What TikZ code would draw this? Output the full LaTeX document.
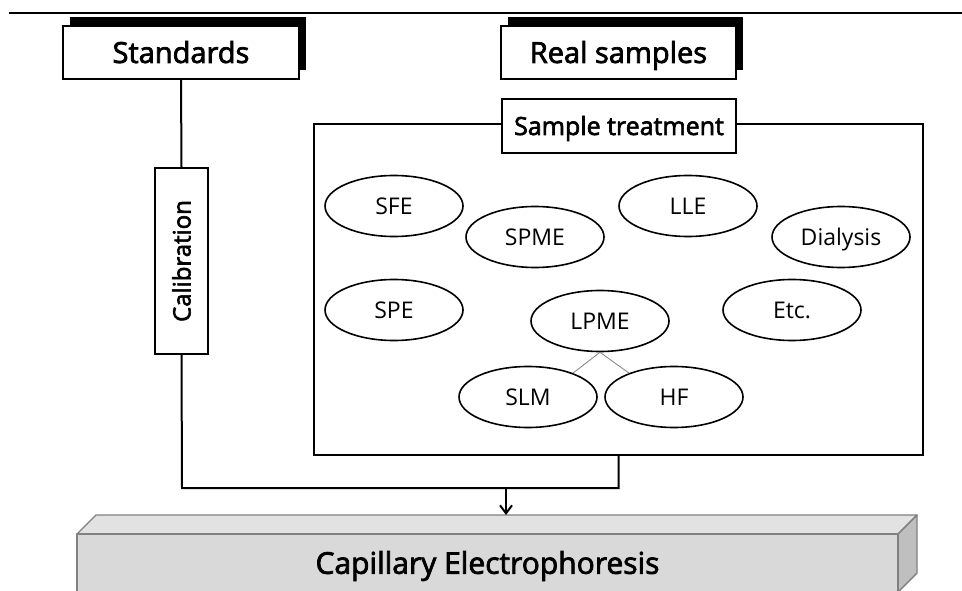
\documentclass[tikz,border=0pt]{standalone}
\usepackage{fontspec}
\setmainfont{Open Sans}
\newfontfamily\headfont[FakeBold=2.5]{Open Sans}
\usetikzlibrary{shapes.geometric,arrows.meta,shadows}
\definecolor{cefront}{HTML}{D9D9D9}
\definecolor{cetop}{HTML}{E2E2E2}
\definecolor{ceside}{HTML}{BFBFBF}
\definecolor{ceedge}{HTML}{808080}
\begin{document}
\begin{tikzpicture}[x=1pt,y=-1pt,
  titlebox/.style={draw, line width=2pt, fill=white, inner sep=0pt,
    text height=20.9pt, text depth=0pt,
    font=\headfont\fontsize{29}{34}\selectfont,
    drop shadow={shadow xshift=7pt, shadow yshift=9pt, fill=black, opacity=1}},
  plainbox/.style={draw, line width=2pt, fill=white, inner sep=0pt},
  method/.style={ellipse, draw, line width=1.6pt, fill=white,
    minimum width=138pt, minimum height=61pt, inner sep=0pt,
    text height=16.5pt, text depth=0pt, font=\fontsize{23}{27}\selectfont},
  flow/.style={line width=2pt},
  branch/.style={draw=gray, line width=0.8pt}]
\useasboundingbox (0,0) rectangle (962,591);

% rule across the top
\draw[line width=2pt] (9,13) -- (962,13);

% sources
\node[titlebox, minimum width=236pt, minimum height=53pt] (std) at (181,52.5) {Standards};
\node[titlebox, minimum width=235pt, minimum height=53pt] (real) at (618.5,52.5) {Real samples};

% sample treatment area
\node[draw, line width=2pt, minimum width=609pt, minimum height=331pt,
  inner sep=0pt] (area) at (618.5,289.5) {};
\node[plainbox, minimum width=234pt, minimum height=54pt,
  text height=18pt, text depth=0pt,
  font=\headfont\fontsize{25}{30}\selectfont] (treat) at (619,126) {Sample treatment};

% extraction techniques
\node[method] (sfe)  at (394,206) {SFE};
\node[method] (spme) at (535,237) {SPME};
\node[method] (lle)  at (688,206) {LLE};
\node[method] (dial) at (841,237) {Dialysis};
\node[method] (spe)  at (394,310) {SPE};
\node[method] (lpme) at (600,321) {LPME};
\node[method] (etc)  at (792,310) {Etc.};
\node[method] (slm)  at (528,397) {SLM};
\node[method] (hf)   at (674,397) {HF};
\draw[branch] (slm.28) -- (lpme.south) -- (hf.152);

% calibration branch
\node[plainbox, minimum width=53pt, minimum height=186pt,
  font=\headfont\fontsize{24}{28}\selectfont] (calib) at (181.5,261)
  {\rotatebox{90}{Calibration}};
\draw[flow] (std.south) -- (calib.north);

% capillary electrophoresis block
\begin{scope}[draw=ceedge, line width=1.4pt, line join=round]
  \filldraw[fill=cetop] (77,534) -- (96,515) -- (917,515) -- (898,534) -- cycle;
  \filldraw[fill=ceside] (898,534) -- (917,515) -- (917,573) -- (898,592) -- cycle;
  \filldraw[fill=cefront] (77,534) rectangle (898,600);
\end{scope}
\node[font=\headfont\fontsize{30}{36}\selectfont, text height=21.6pt, text depth=0pt,
  inner sep=0pt] (ce) at (487.5,563) {Capillary Electrophoresis};
\coordinate (ceTop) at (506,515);

% merging lines into the analysis
\coordinate (joinL) at (182,488);
\coordinate (joinR) at (618.5,488);
\coordinate (drop) at (506,488);
\draw[flow, line join=miter] (calib.south) -- (joinL) -- (joinR) -- (area.south);
\draw[flow, -{Straight Barb[length=8pt, width=12pt]}] (drop) -- (ceTop);
\end{tikzpicture}
\end{document}
